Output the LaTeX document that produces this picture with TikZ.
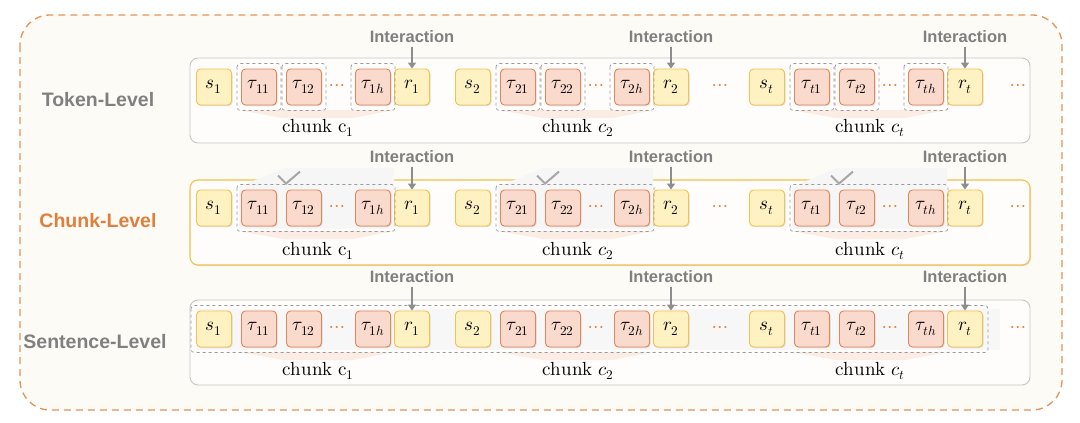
\documentclass[tikz,border=0pt]{standalone}
\usepackage{fontspec}
\setmainfont{Liberation Sans}
\usepackage{unicode-math}
\setmathfont{Latin Modern Math}
\usetikzlibrary{arrows.meta,shadows}
\definecolor{bg}{HTML}{FDFBF6}
\definecolor{yf}{HTML}{FFF2C2}
\definecolor{yb}{HTML}{F2C14E}
\definecolor{of}{HTML}{F9DACC}
\definecolor{ob}{HTML}{E0875A}
\definecolor{orn}{HTML}{E07F3C}
\definecolor{gt}{HTML}{808080}
\tikzset{
 box/.style={line width=0.9pt,rounded corners=4pt,minimum width=35pt,minimum height=36pt,inner sep=0pt,font=\fontsize{19}{21}\selectfont,drop shadow={opacity=0.25,shadow xshift=1pt,shadow yshift=-1pt}},
 yb/.style={box,draw=yb,fill=yf},
 ob/.style={box,draw=ob,fill=of},
 dsh/.style={draw=gray!80,dashed,line width=0.7pt,rounded corners=3pt},
 dots/.style={text=orn,font=\fontsize{20}{22}\selectfont},
 inter/.style={text=gt,font=\bfseries\fontsize{16.5}{18}\selectfont},
 arr/.style={-{Triangle[width=8pt,length=6pt]},line width=2.6pt,draw=gt!90},
 chk/.style={font=\fontsize{19}{21}\selectfont},
 lvl/.style={font=\bfseries\fontsize{19.5}{22}\selectfont},
 fan/.style={fill=of!70,draw=none,opacity=0.7},
}
\newcommand{\myrow}[2]{% #1 = y, #2 = id
 \foreach \g/\sx/\sub/\ssub in {1/214/1/1,2/473/2/2,3/767/t/t}{
  \node[yb] (s#2\g) at (\sx,#1) {$s_{\sub}$};
  \node[ob] (a#2\g) at (\sx+45,#1) {$\tau_{\ssub 1}$};
  \node[ob] (b#2\g) at (\sx+90,#1) {$\tau_{\ssub 2}$};
  \node[dots] (d#2\g) at (\sx+123,#1) {$\boldsymbol{\cdots}$};
  \node[ob] (h#2\g) at (\sx+159,#1) {$\tau_{\ssub h}$};
  \node[yb] (r#2\g) at (\sx+198,#1) {$r_{\sub}$};
 }
 \node[dots] (e#2a) at (720,#1) {$\boldsymbol{\cdots}$};
 \node[dots] (e#2b) at (1018,#1) {$\boldsymbol{\cdots}$};
}
\begin{document}
\begin{tikzpicture}[x=1pt,y=-1pt]
\useasboundingbox (0,0) rectangle (1080,423);
\fill[white] (0,0) rectangle (1080,423);
\draw[orn!85,dashed,dash pattern=on 7pt off 5pt,line width=1.3pt,rounded corners=30pt,fill=bg] (20,15) rectangle (1062,410);
% row frames
\draw[gray!45,line width=0.9pt,rounded corners=8pt,fill=white!60!bg] (190,58) rectangle (1030,143);
\draw[yb,line width=1.1pt,rounded corners=8pt,fill=white!60!bg] (190,180) rectangle (1030,265);
\draw[gray!45,line width=0.9pt,rounded corners=8pt,fill=white!60!bg] (190,300) rectangle (1030,385);
% fans
\foreach \sx/\cx/\yy in {214/318/110,473/578/110,767/870/110,214/318/231,473/578/231,767/870/231,214/318/352,473/578/352,767/870/352}{
 \fill[fan] (\sx+25,\yy) -- (\sx+180,\yy) -- (\cx+35,\yy+8) -- (\cx-35,\yy+8) -- cycle;
}
% row 2 highlight
\foreach \sx in {214,473,767}{
 \fill[gray!7] (\sx+25,187) rectangle (\sx+180,229);
 \fill[gray!7] (\sx+70,168) -- (\sx+180,168) -- (\sx+180,187) -- (\sx+25,187) -- cycle;
}
\fill[gray!6] (197,309) rectangle (1000,350);
\myrow{87}{1}
\myrow{208}{2}
\myrow{329}{3}
% dashed groups
\foreach \g in {1,2,3}{
 \foreach \n in {a,b,h}{
  \draw[dsh] ([shift={(-4,-5)}]\n1\g.north west) rectangle ([shift={(4,5)}]\n1\g.south east);
 }
 \draw[dsh] ([shift={(-4,-5)}]a2\g.north west) rectangle ([shift={(4,5)}]h2\g.south east);
}
\draw[dsh] ([shift={(-5,-5)}]s31.north west) rectangle ([shift={(5,5)}]r33.south east);
% labels
\node[lvl,text=gt] (L1) at (98,100) {Token-Level};
\node[lvl,text=orn] (L2) at (98,221) {Chunk-Level};
\node[lvl,text=gt] (L3) at (95,342) {Sentence-Level};
\foreach \row/\yi in {1/37,2/157,3/277}{
 \foreach \g in {1,2,3}{
  \node[inter,anchor=center] (I\row\g) at (r\row\g |- 0,\yi) {Interaction};
  \draw[arr] (I\row\g.south) -- (r\row\g.north);
 }
}
\foreach \row/\yc in {1/128,2/251,3/371}{
 \node[chk] (c\row1) at (318,\yc) {$\symup{chunk}\ \symup{c}_1$};
 \node[chk] (c\row2) at (578,\yc) {$\symup{chunk}\ c_2$};
 \node[chk] (c\row3) at (870,\yc) {$\symup{chunk}\ c_t$};
}
% checkmarks
\foreach \g in {1,2,3}{
 \draw[gray!70,line width=2pt] ([shift={(-8,-14)}]b2\g.north west) -- ++(8,8) -- ++(14,-12);
}
\end{tikzpicture}
\end{document}
